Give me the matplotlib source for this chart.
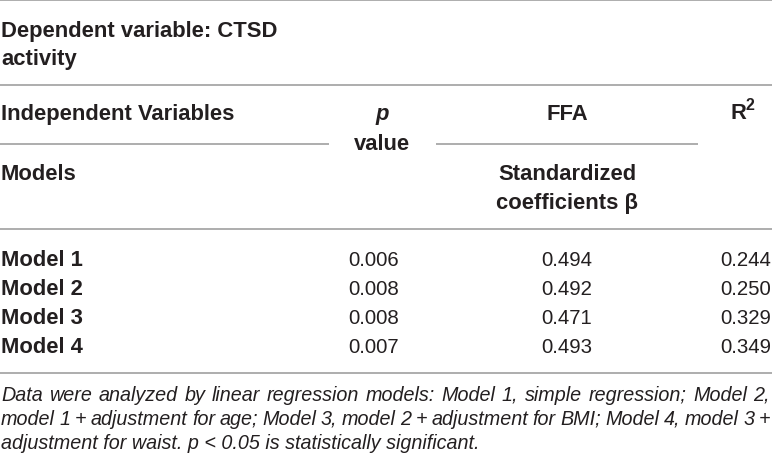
import matplotlib
matplotlib.use("Agg")
import matplotlib.pyplot as plt

# ---- data ----
dep_title = ["Dependent variable: CTSD", "activity"]
models = ["Model 1", "Model 2", "Model 3", "Model 4"]
p_values = ["0.006", "0.008", "0.008", "0.007"]
ffa_beta = ["0.494", "0.492", "0.471", "0.493"]
r_squared = ["0.244", "0.250", "0.329", "0.349"]
footnote_lines = [
    "Data were analyzed by linear regression models: Model 1, simple regression; Model 2,",
    "model 1 + adjustment for age; Model 3, model 2 + adjustment for BMI; Model 4, model 3 +",
    "adjustment for waist. p < 0.05 is statistically significant.",
]

W, H = 772, 464
fig = plt.figure(figsize=(W / 100, H / 100), dpi=100)
ax = fig.add_axes([0, 0, 1, 1])
ax.set_xlim(0, W)
ax.set_ylim(H, 0)
ax.axis("off")

FONT = "Liberation Sans"
TXT = "#231f20"
LINE = "#a7a7a7"
BS = 15.8   # bold header size
NS = 14.7   # numbers
FS = 14.2   # footnote

def hline(y, x0=0, x1=W):
    ax.plot([x0, x1], [y, y], color=LINE, lw=1.3, solid_capstyle="butt")

hline(1)
hline(86)
hline(145, 0, 329)
hline(145, 436, 698)
hline(229.5)
hline(373.5)

kw = dict(family=FONT, color=TXT, va="baseline")
ax.text(1, 37, dep_title[0], fontsize=BS, weight="bold", **kw)
ax.text(1, 65, dep_title[1], fontsize=BS, weight="bold", **kw)
ax.text(1, 120, "Independent Variables", fontsize=BS, weight="bold", **kw)
ax.text(1, 180, "Models", fontsize=BS, weight="bold", **kw)

pc, fc, rr = 382, 567, 771
ax.text(pc, 120, "p", fontsize=BS, weight="bold", style="italic", ha="center", **kw)
ax.text(pc, 150, "value", fontsize=BS, weight="bold", ha="center", **kw)
ax.text(fc, 120, "FFA", fontsize=BS, weight="bold", ha="center", **kw)
ax.text(fc, 180, "Standardized", fontsize=BS, weight="bold", ha="center", **kw)
ax.text(fc, 209, "coefficients β", fontsize=BS, weight="bold", ha="center", **kw)
ax.text(746, 119, "R", fontsize=BS, weight="bold", ha="right", **kw)
ax.text(746, 110, "2", fontsize=11.5, weight="bold", ha="left", **kw)

row_y = [266, 295, 324, 353]
for y, m, p, b, r in zip(row_y, models, p_values, ffa_beta, r_squared):
    ax.text(1, y, m, fontsize=BS, weight="bold", **kw)
    ax.text(374, y, p, fontsize=NS, ha="center", **kw)
    ax.text(fc, y, b, fontsize=NS, ha="center", **kw)
    ax.text(rr, y, r, fontsize=NS, ha="right", **kw)

# footnote, first two lines justified
fig.canvas.draw()
renderer = fig.canvas.get_renderer()
foot_y = [401, 425, 449]
fkw = dict(family=FONT, color=TXT, va="baseline", fontsize=FS, style="italic")
for i, (line, y) in enumerate(zip(footnote_lines, foot_y)):
    if i == len(footnote_lines) - 1:
        ax.text(1, y, line, **fkw)
        continue
    words = line.split(" ")
    texts = [ax.text(0, y, w_, **fkw) for w_ in words]
    widths = [t.get_window_extent(renderer).width for t in texts]
    gap = (W - 2 - 1 - sum(widths)) / (len(words) - 1)
    x = 1
    for t, wd in zip(texts, widths):
        t.set_x(x)
        x += wd + gap

fig.savefig("out.png", dpi=100)
